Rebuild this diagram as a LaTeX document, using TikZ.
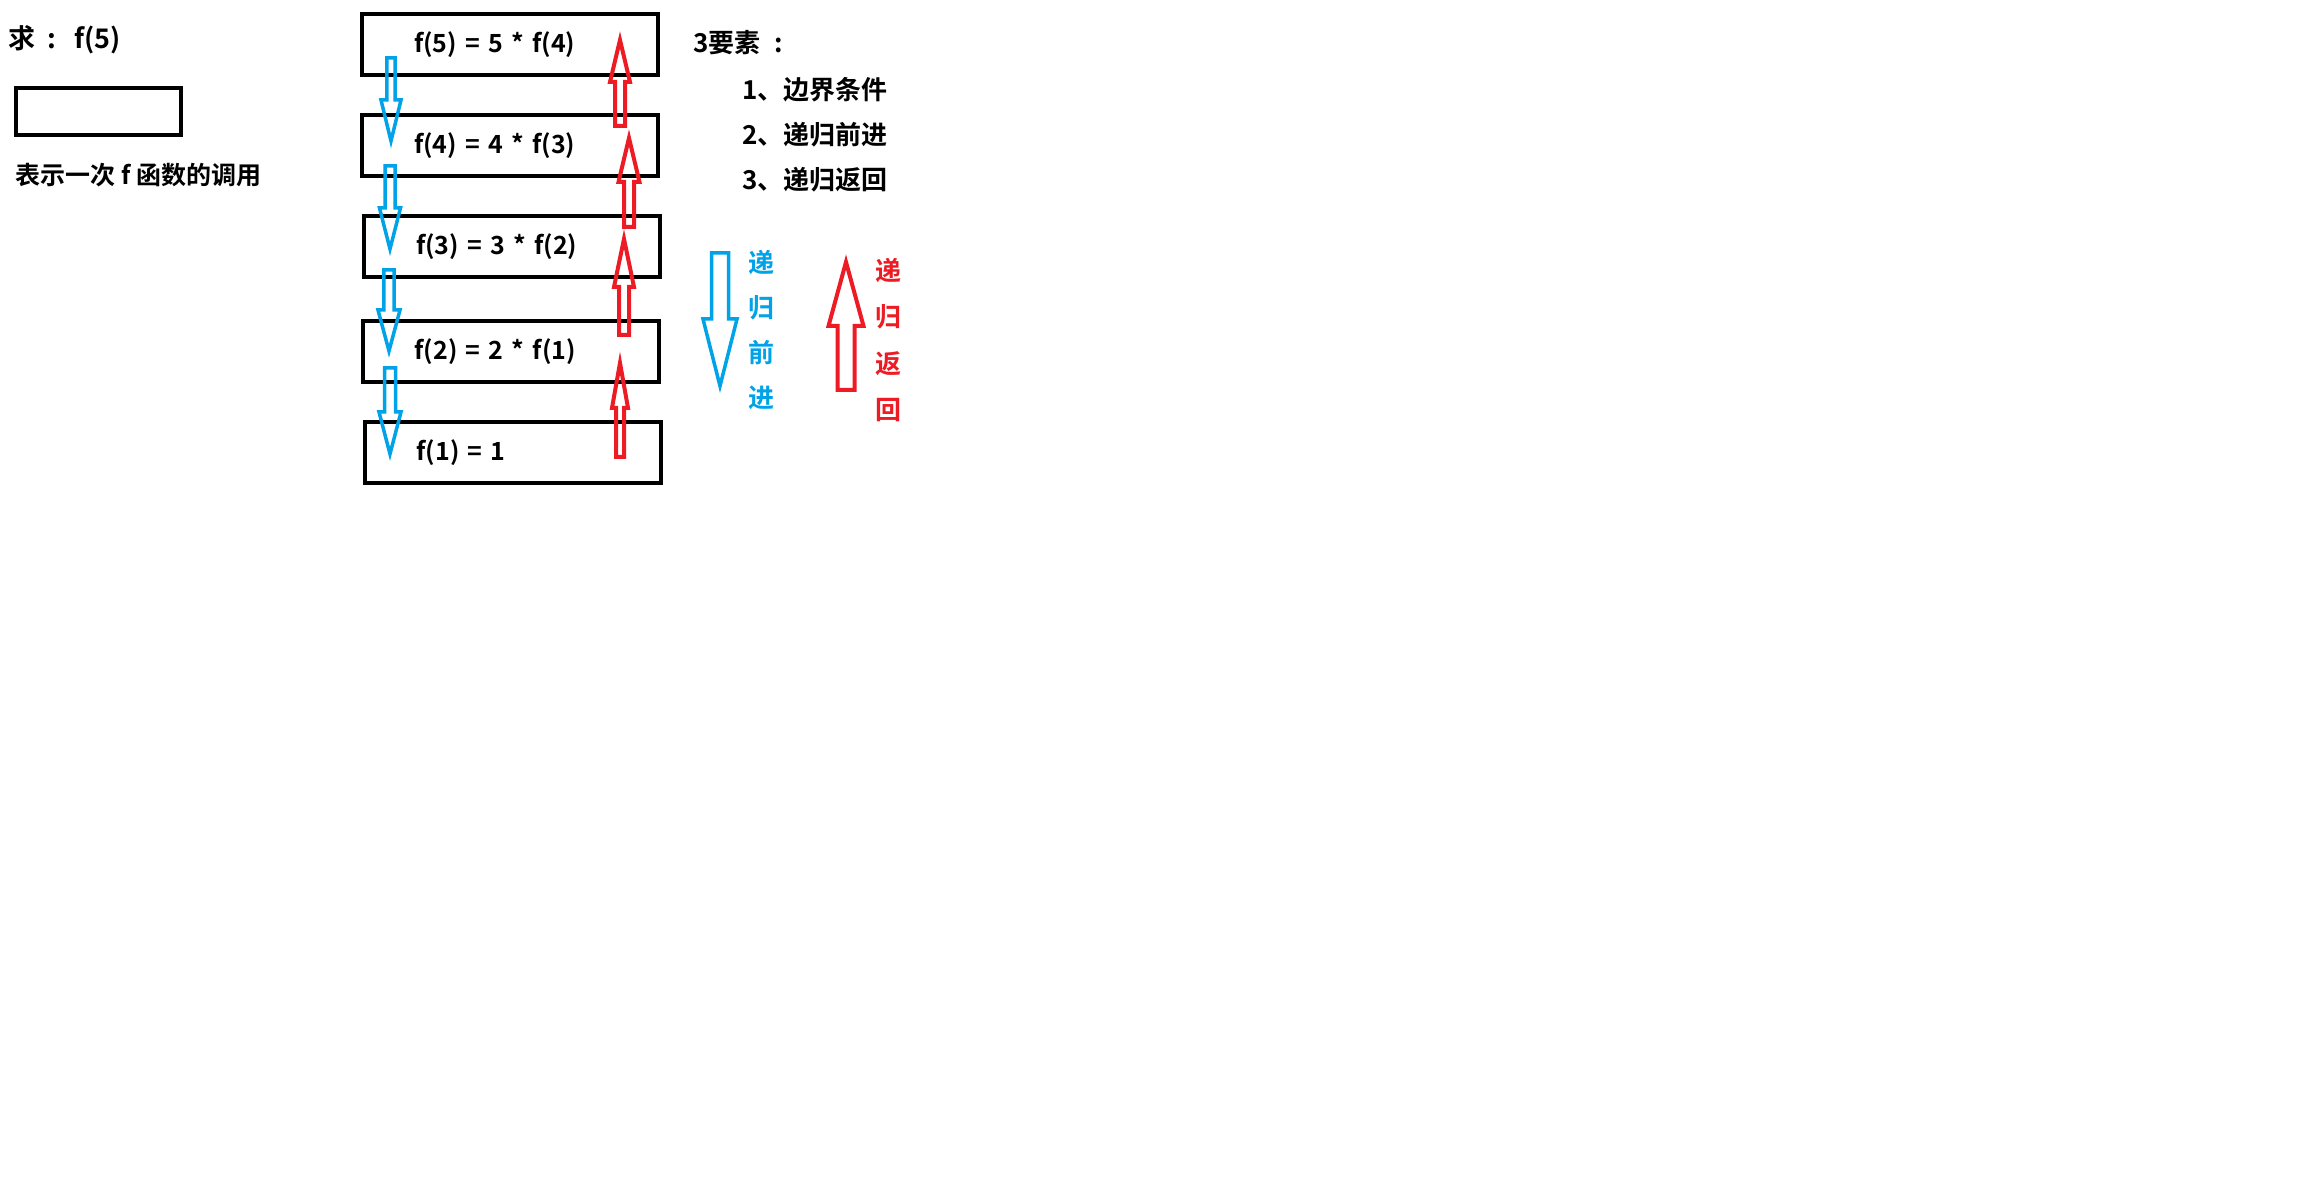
\documentclass[tikz,border=0pt]{standalone}
\usepackage{fontspec}
\setmainfont{Noto Sans CJK SC}[BoldFont={Noto Sans CJK SC Bold}]
\definecolor{pblue}{HTML}{00A2E8}
\definecolor{pred}{HTML}{ED1C24}
\tikzset{
  callbox/.style={draw=black, line width=2pt, rectangle, minimum height=30.5pt,
    text width=96pt, inner xsep=26pt, inner ysep=0pt, align=left,
    font=\bfseries\fontsize{12.5}{15}\selectfont},
  txt/.style={inner sep=0pt, font=\bfseries\fontsize{12.5}{15}\selectfont},
  blarrow/.style={draw=pblue, line width=1.75pt, line join=miter},
  rdarrow/.style={draw=pred, line width=2pt, line join=miter},
}
% down arrow: cx, top, headbase, tip, shaft half, head half, style
\newcommand{\myDownArrow}[7]{%
  \draw[#7] (#1-#5,#2) -- (#1+#5,#2) -- (#1+#5,#3) -- (#1+#6,#3) -- (#1,#4)
    -- (#1-#6,#3) -- (#1-#5,#3) -- cycle;}
% up arrow: cx, bottom, headbase, tip, shaft half, head half, style
\newcommand{\myUpArrow}[7]{%
  \draw[#7] (#1-#5,#2) -- (#1+#5,#2) -- (#1+#5,#3) -- (#1+#6,#3) -- (#1,#4)
    -- (#1-#6,#3) -- (#1-#5,#3) -- cycle;}
\begin{document}
\begin{tikzpicture}[x=0.5pt,y=-0.5pt]
\useasboundingbox (0,0) rectangle (2324,1192);
% left legend
\node[txt, anchor=west, font=\bfseries\fontsize{13.5}{15}\selectfont] (title) at (8,40) {求\hspace{6pt}:\hspace{9pt}f(5)};
\node[draw=black, line width=2pt, minimum width=82.5pt, minimum height=23.5pt, inner sep=0pt] (legbox) at (98.5,111.5) {};
\node[txt, anchor=west] (legtxt) at (15,175) {表示一次 f 函数的调用};
% call boxes
\node[callbox] (b5) at (510,44.5) {f(5) = 5 * f(4)};
\node[callbox] (b4) at (510,145.5) {f(4) = 4 * f(3)};
\node[callbox] (b3) at (512,247) {f(3) = 3 * f(2)};
\node[callbox] (b2) at (510.5,351.5) {f(2) = 2 * f(1)};
\node[callbox] (b1) at (512.5,452.5) {f(1) = 1};
% blue descending arrows
\myDownArrow{391}{58}{100}{141}{4.2}{10}{blarrow}
\myDownArrow{390}{166}{208}{249}{5}{10.5}{blarrow}
\myDownArrow{389}{270}{310}{351}{5.2}{11}{blarrow}
\myDownArrow{390}{368}{412}{454}{5.5}{11}{blarrow}
% red returning arrows
\myUpArrow{620}{126}{82}{40}{5}{10}{rdarrow}
\myUpArrow{629}{227}{182}{138}{5}{10.5}{rdarrow}
\myUpArrow{624}{335}{287}{239}{5}{10}{rdarrow}
\myUpArrow{620}{457}{408}{363}{4}{8}{rdarrow}
% three elements
\node[txt, anchor=west, font=\bfseries\fontsize{13}{15}\selectfont] (el0) at (693,43) {3要素\hspace{7pt}:};
\node[txt, anchor=west, font=\bfseries\fontsize{13}{15}\selectfont] (el1) at (742,90) {1、边界条件};
\node[txt, anchor=west, font=\bfseries\fontsize{13}{15}\selectfont] (el2) at (742,135) {2、递归前进};
\node[txt, anchor=west, font=\bfseries\fontsize{13}{15}\selectfont] (el3) at (742,180) {3、递归返回};
% legend arrows
\myDownArrow{720}{253}{319}{386}{8.5}{17}{blarrow}
\myUpArrow{846}{390}{326}{262}{8.5}{17.5}{rdarrow}
\node[txt, text=pblue, align=center, font=\bfseries\fontsize{13}{22.5}\selectfont] (fwd) at (761,329.5) {递\\归\\前\\进};
\node[txt, text=pred, align=center, font=\bfseries\fontsize{13}{23.3}\selectfont] (ret) at (888,340) {递\\归\\返\\回};
\end{tikzpicture}
\end{document}
